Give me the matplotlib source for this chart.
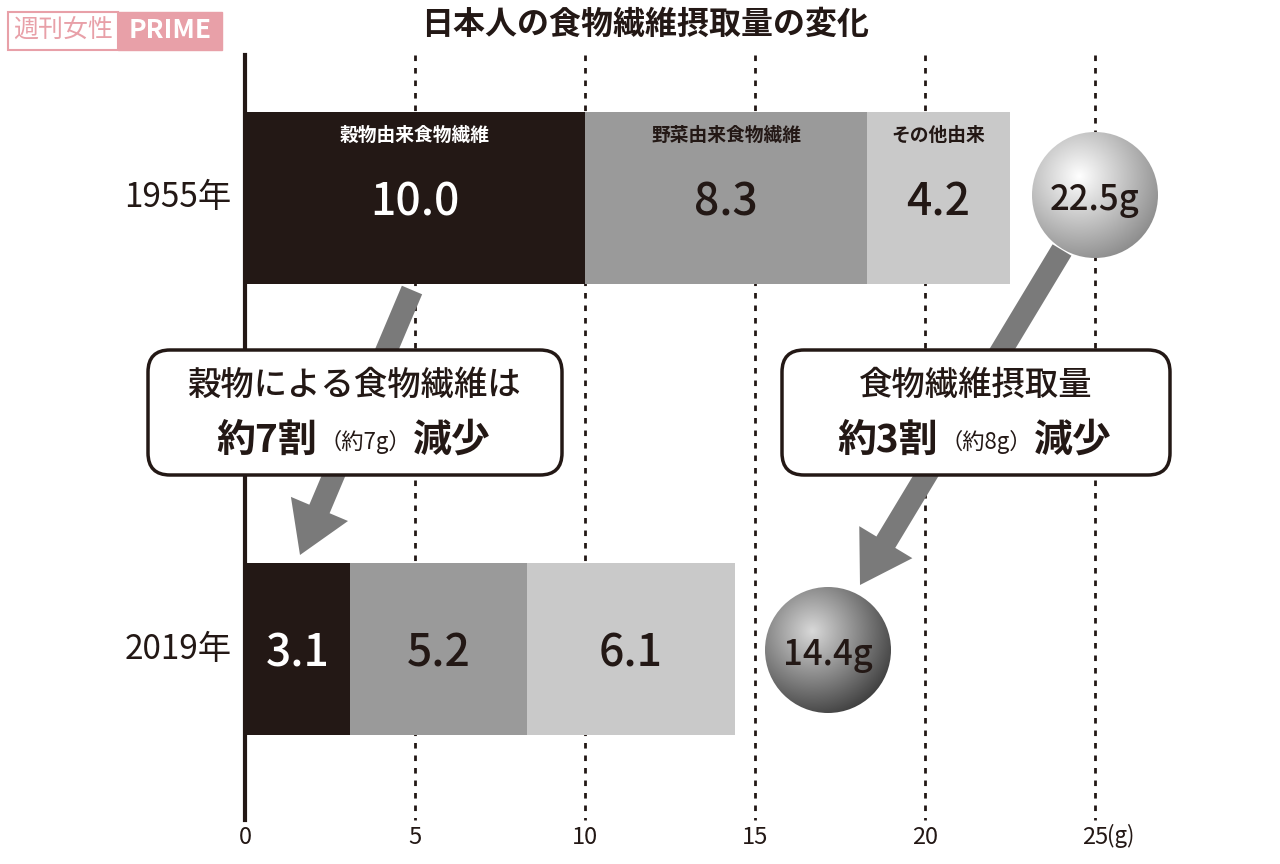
import matplotlib
matplotlib.use('Agg')
import matplotlib.pyplot as plt
from matplotlib.patches import FancyBboxPatch, Circle, FancyArrow, Rectangle
import numpy as np

plt.rcParams['font.family'] = ['Noto Sans CJK JP', 'DejaVu Sans']

years = ["1955年", "2019年"]
sources = ["穀物由来食物繊維", "野菜由来食物繊維", "その他由来"]
values = {"1955年": [10.0, 8.3, 4.2], "2019年": [3.1, 5.2, 6.1]}
totals = ["22.5g", "14.4g"]
ticks = [0, 5, 10, 15, 20, 25]
colors = ["#231815", "#9a9a9a", "#c9c9c9"]
text_colors = ["white", "#231815", "#231815"]

fig = plt.figure(figsize=(12.8, 8.64), dpi=100)
# main axes: full figure, x in grams, y in pixels
ax = fig.add_axes([0, 0, 1, 1])
px = 34.0
ax.set_xlim(-245 / px, (1280 - 245) / px)
ax.set_ylim(864, 0)
ax.axis('off')

ycent = [198, 649]
h = 172
for t in ticks[1:]:
  ax.plot([t, t], [55, 820], color='#231815', lw=2, ls=(0, (2, 2.5)), zorder=1)
ax.plot([0, 0], [55, 820], color='#231815', lw=3, zorder=3)
for t in ticks:
  ax.text(t, 838, f"{t}", ha='center', va='center', fontsize=17, color='#231815')
ax.text(25.35, 836, "(g)", ha='left', va='center', fontsize=16, color='#231815')

for i, yr in enumerate(years):
  left = 0
  for j, v in enumerate(values[yr]):
    ax.barh(ycent[i], v, height=h, left=left, color=colors[j], zorder=2)
    ax.text(left + v / 2, ycent[i] + 5, f"{v:.1f}", ha='center', va='center',
            fontsize=32, fontweight='medium', color=text_colors[j], zorder=4)
    if i == 0:
      ax.text(left + v / 2, 135, sources[j], ha='center', va='center',
              fontsize=13.5, fontweight='bold', color=text_colors[j], zorder=4)
    left += v
  ax.text(-0.4, ycent[i], yr, ha='right', va='center', fontsize=24, color='#231815')

# overlay in pixel coordinates
ov = fig.add_axes([0, 0, 1, 1])
ov.set_xlim(0, 1280)
ov.set_ylim(864, 0)
ov.axis('off')

ov.text(645, 25, "日本人の食物繊維摂取量の変化", ha='center', va='center',
        fontsize=23, fontweight='bold', color='#231815')

# watermark
ov.add_patch(Rectangle((8, 12), 110, 38, fc='white', ec='#e8a0a8', lw=1.5, zorder=5))
ov.add_patch(Rectangle((118, 12), 104, 38, color='#e8a0a8', zorder=5))
ov.text(63, 31, "週刊女性", ha='center', va='center', fontsize=18, color='#e8a0a8', zorder=6)
ov.text(170, 31, "PRIME", ha='center', va='center', fontsize=19, fontweight='bold', color='white', zorder=6)

# arrows
for (x0, y0, x1, y1) in [(412, 290, 300, 555), (1062, 250, 860, 585)]:
  ov.add_patch(FancyArrow(x0, y0, x1 - x0, y1 - y0, width=22, head_width=62,
                          head_length=50, length_includes_head=True,
                          color='#7a7a7a', lw=0, zorder=3))

# circles with gradient
def ball(cx, cy, r, dark, light):
  n = 200
  yy, xx = np.mgrid[-1:1:n * 1j, -1:1:n * 1j]
  d = np.sqrt((xx + 0.25) ** 2 + (yy + 0.3) ** 2) / 1.4
  img = np.clip(d, 0, 1)
  c = np.array(light)[None, None, :] * (1 - img[..., None]) + np.array(dark)[None, None, :] * img[..., None]
  im = ov.imshow(c, extent=(cx - r, cx + r, cy + r, cy - r), zorder=4)
  im.set_clip_path(Circle((cx, cy), r, transform=ov.transData))
  ov.set_xlim(0, 1280)
  ov.set_ylim(864, 0)

ball(1095, 195, 63, (0.55, 0.55, 0.55), (1, 1, 1))
ball(828, 650, 63, (0.25, 0.25, 0.25), (0.85, 0.85, 0.85))
ov.text(1095, 200, totals[0], ha='center', va='center', fontsize=25, fontweight='medium', color='#231815', zorder=6)
ov.text(828, 655, totals[1], ha='center', va='center', fontsize=25, fontweight='medium', color='#231815', zorder=6)

# callouts
for (x0, x1, l1, big, l2) in [(148, 562, "穀物による食物繊維は", "約7割", "約7g"),
                              (782, 1170, "食物繊維摂取量", "約3割", "約8g")]:
  ov.add_patch(FancyBboxPatch((x0, 350), x1 - x0, 125, boxstyle="round,pad=0,rounding_size=22",
                              fc='white', ec='#231815', lw=2.5, zorder=7))
  cx = (x0 + x1) / 2
  ov.text(cx, 385, l1, ha='center', va='center', fontsize=24, fontweight='medium', color='#231815', zorder=8)
  ov.text(cx - 38, 440, big, ha='right', va='center', fontsize=28, fontweight='bold', color='#231815', zorder=8)
  ov.text(cx + 10, 442, f"（{l2}）", ha='center', va='center', fontsize=16, color='#231815', zorder=8)
  ov.text(cx + 58, 440, "減少", ha='left', va='center', fontsize=28, fontweight='bold', color='#231815', zorder=8)

fig.savefig("out.png", dpi=100)
